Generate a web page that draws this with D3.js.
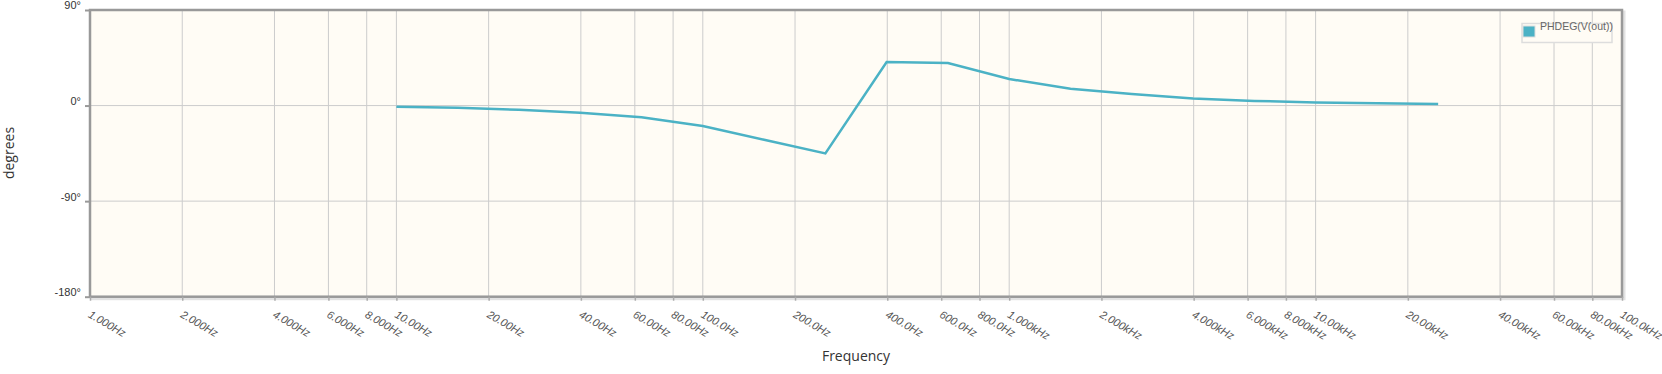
<!DOCTYPE html>
<html><head><meta charset="utf-8">
<script src="https://cdn.jsdelivr.net/npm/d3@7"></script>
<style>
html,body{margin:0;padding:0;background:#fff;}
svg{display:block;font-family:Arial,"Liberation Sans",sans-serif;}
</style></head>
<body>
<svg id="chart" width="1662" height="374"></svg>
<script>
const freqs = [10, 15.85, 25.12, 39.81, 63.10, 100, 158.5, 251.2, 398.1, 631.0, 1000, 1585, 2512, 3981, 6310, 10000, 15849, 25119];
const phase = [-1.1, -2.1, -4.0, -6.8, -11.1, -19.3, -32.2, -45.0, 41.0, 40.0, 25.0, 15.8, 11.0, 6.6, 4.4, 3.0, 2.2, 1.4];
const xTickValues = [1,2,4,6,8,10,20,40,60,80,100,200,400,600,800,1000,2000,4000,6000,8000,10000,20000,40000,60000,80000,100000];
const xTickLabels = ["1.000Hz","2.000Hz","4.000Hz","6.000Hz","8.000Hz","10.00Hz","20.00Hz","40.00Hz","60.00Hz","80.00Hz","100.0Hz","200.0Hz","400.0Hz","600.0Hz","800.0Hz","1.000kHz","2.000kHz","4.000kHz","6.000kHz","8.000kHz","10.00kHz","20.00kHz","40.00kHz","60.00kHz","80.00kHz","100.0kHz"];
const yTickValues = [-180, -90, 0, 90];
const yTickLabels = ["-180°", "-90°", "0°", "90°"];
const seriesName = "PHDEG(V(out))";

const L = 90, R = 1622, T = 10, B = 296.7;
const color = "#4bb2c5";
const svg = d3.select("#chart");
const x = d3.scaleLog().domain([1, 100000]).range([L, R]);
const y = d3.scaleLinear().domain([-180, 90]).range([B, T]);

// shadow + background
svg.append("rect").attr("x", L + 2).attr("y", T + 2).attr("width", R - L).attr("height", B - T)
  .attr("fill", "none").attr("stroke", "#e2e2e2").attr("stroke-width", 3);
svg.append("rect").attr("x", L).attr("y", T).attr("width", R - L).attr("height", B - T)
  .attr("fill", "#fffcf5");

// grid
const g = svg.append("g");
g.selectAll("line.vx").data(xTickValues.slice(1, -1)).join("line")
  .attr("x1", d => x(d)).attr("x2", d => x(d)).attr("y1", T).attr("y2", B)
  .attr("stroke", "#cccccc").attr("stroke-width", 1);
g.selectAll("line.hy").data(yTickValues.slice(1, -1)).join("line")
  .attr("x1", L).attr("x2", R).attr("y1", d => y(d)).attr("y2", d => y(d))
  .attr("stroke", "#cccccc").attr("stroke-width", 1);

// series line
const line = d3.line().x((d, i) => x(freqs[i])).y(d => y(d));
svg.append("path").datum(phase).attr("d", line).attr("fill", "none")
  .attr("stroke", color).attr("stroke-width", 2.5).attr("stroke-linejoin", "miter");

// border
svg.append("rect").attr("x", L).attr("y", T).attr("width", R - L).attr("height", B - T)
  .attr("fill", "none").attr("stroke", "#999999").attr("stroke-width", 2.5);

// y axis ticks + labels
const yAxis = d3.axisLeft(y).tickValues(yTickValues).tickSize(5).tickFormat((d, i) => yTickLabels[i]);
const ya = svg.append("g").attr("transform", `translate(${L},0)`).call(yAxis);
ya.select(".domain").remove();
ya.selectAll(".tick line").attr("stroke", "#999").attr("stroke-width", 2);
ya.selectAll(".tick text").attr("fill", "#333").attr("font-size", 11).attr("x", -9).attr("dy", "-0.1em")
  .attr("font-family", "Arial, 'Liberation Sans', sans-serif");

// x axis ticks + labels
const xAxis = d3.axisBottom(x).tickValues(xTickValues).tickSize(4).tickFormat((d, i) => xTickLabels[i]);
const xa = svg.append("g").attr("transform", `translate(0,${B})`).call(xAxis);
xa.select(".domain").remove();
xa.selectAll(".tick line").attr("stroke", "#aaa").attr("stroke-width", 1.5);
xa.selectAll(".tick text").attr("fill", "#555").attr("font-size", 11)
  .attr("font-family", "Arial, 'Liberation Sans', sans-serif").attr("font-style", "italic")
  .attr("text-anchor", "start").attr("x", 0).attr("y", 0).attr("dy", 0)
  .attr("transform", "translate(-3,20) rotate(30)");

// axis titles
svg.append("text").attr("transform", "translate(13.5,153) rotate(-90)")
  .attr("text-anchor", "middle").attr("font-size", 14).attr("fill", "#333")
  .attr("font-family", "'Open Sans', sans-serif").text("degrees");
svg.append("text").attr("x", 856).attr("y", 361)
  .attr("text-anchor", "middle").attr("font-size", 14).attr("fill", "#333")
  .attr("font-family", "'Open Sans', sans-serif").text("Frequency");

// legend
const lg = svg.append("g");
lg.append("rect").attr("x", 1522).attr("y", 23.5).attr("width", 90).attr("height", 19)
  .attr("fill", "#fffcf5").attr("stroke", "#dddddd").attr("stroke-width", 1.5);
lg.append("rect").attr("x", 1523).attr("y", 26).attr("width", 12).attr("height", 11).attr("fill", color)
  .attr("stroke", "#dddddd").attr("stroke-width", 1);
lg.append("text").attr("x", 1540).attr("y", 30).attr("font-size", 10.5).attr("fill", "#666")
  .attr("font-family", "Arial, 'Liberation Sans', sans-serif").text(seriesName);
</script>
</body></html>
